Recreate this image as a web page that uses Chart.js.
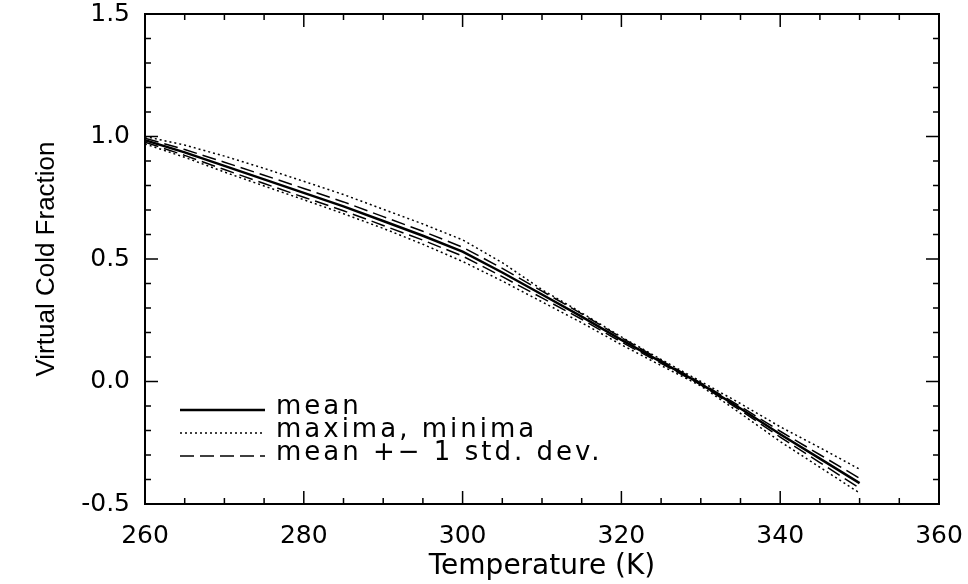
<!DOCTYPE html>
<html>
<head>
<meta charset="utf-8">
<title>Virtual Cold Fraction</title>
<script src="https://cdn.jsdelivr.net/npm/chart.js@4"></script>
<style>
  html, body { margin: 0; padding: 0; background: #fff; }
  #wrap { width: 968px; height: 584px; }
</style>
</head>
<body>
<div id="wrap"><canvas id="chart" width="968" height="584"></canvas></div>
<script>
// temperatures (K) and the curves
const temps    = [260, 265, 270, 275, 280, 285, 290, 295, 300, 305, 310, 315, 320, 325, 330, 335, 340, 345, 350];
const meanVals = [0.985, 0.935, 0.880, 0.825, 0.770, 0.715, 0.655, 0.595, 0.530, 0.445, 0.355, 0.265, 0.170, 0.080, -0.010, -0.110, -0.215, -0.315, -0.415];
const maxVals  = [1.000, 0.965, 0.920, 0.870, 0.817, 0.763, 0.703, 0.643, 0.578, 0.485, 0.375, 0.280, 0.182, 0.090, 0.000, -0.090, -0.185, -0.270, -0.358];
const minVals  = [0.970, 0.915, 0.855, 0.798, 0.742, 0.685, 0.625, 0.560, 0.490, 0.410, 0.325, 0.240, 0.150, 0.065, -0.018, -0.130, -0.245, -0.350, -0.455];
const sdUpper  = [0.993, 0.947, 0.895, 0.842, 0.788, 0.733, 0.673, 0.613, 0.548, 0.462, 0.369, 0.276, 0.179, 0.086, -0.006, -0.102, -0.203, -0.299, -0.395];
const sdLower  = [0.977, 0.923, 0.865, 0.808, 0.752, 0.697, 0.637, 0.577, 0.512, 0.428, 0.341, 0.254, 0.161, 0.074, -0.014, -0.118, -0.227, -0.331, -0.435];

const xTicks = [260, 280, 300, 320, 340, 360];
const yTicks = [-0.5, 0.0, 0.5, 1.0, 1.5];
const legendLabels = ['mean', 'maxima, minima', 'mean +\u2212 1 std. dev.'];

const pts = vals => temps.map((t, i) => ({x: t, y: vals[i]}));

const solid  = {borderColor: '#000', borderWidth: 2.5};
const dotted = {borderColor: '#000', borderWidth: 1.5, borderDash: [2, 3]};
const dashed = {borderColor: '#000', borderWidth: 1.5, borderDash: [14, 6]};

// inward tick marks on all four sides, like the original frame
const frameTicks = {
  id: 'frameTicks',
  afterDraw(chart) {
    const {ctx, chartArea: a} = chart;
    const x = chart.scales.x, y = chart.scales.y;
    ctx.save();
    ctx.strokeStyle = '#000';
    ctx.lineWidth = 1.5;
    ctx.beginPath();
    for (let i = 0; i <= 20; i++) {
      const t = xTicks[0] + i * 5;
      const px = x.getPixelForValue(t);
      const len = i % 4 === 0 ? 13 : 6;
      ctx.moveTo(px, a.bottom); ctx.lineTo(px, a.bottom - len);
      ctx.moveTo(px, a.top);    ctx.lineTo(px, a.top + len);
    }
    for (let i = 0; i <= 20; i++) {
      const v = yTicks[0] + i * 0.1;
      const py = y.getPixelForValue(v);
      const len = i % 5 === 0 ? 13 : 6;
      ctx.moveTo(a.left, py);  ctx.lineTo(a.left + len, py);
      ctx.moveTo(a.right, py); ctx.lineTo(a.right - len, py);
    }
    ctx.stroke();
    ctx.restore();
  }
};

// legend in the lower left of the plot box
const boxLegend = {
  id: 'boxLegend',
  afterDatasetsDraw(chart) {
    const ctx = chart.ctx;
    const ds = chart.data.datasets;
    const rows = [ds[0], ds[1], ds[3]];
    ctx.save();
    ctx.fillStyle = '#000';
    ctx.strokeStyle = '#000';
    ctx.font = '26px "DejaVu Sans"';
    ctx.letterSpacing = '3px';
    ctx.textBaseline = 'middle';
    rows.forEach((d, i) => {
      const yy = 410 + i * 23;
      ctx.lineWidth = d.borderWidth;
      ctx.setLineDash(d.borderDash || []);
      ctx.beginPath();
      ctx.moveTo(180, yy);
      ctx.lineTo(265, yy);
      ctx.stroke();
      ctx.setLineDash([]);
      ctx.fillText(legendLabels[i], 276, yy - 3);
    });
    ctx.restore();
  }
};

const tickFont = {family: 'DejaVu Sans', size: 25};

// keep the plot box where the original has it: no extra room for edge labels
const noEdgePadding = s => { s.paddingTop = 0; s.paddingBottom = 0; s.paddingLeft = 0; s.paddingRight = 0; };

new Chart(document.getElementById('chart'), {
  type: 'line',
  data: {
    datasets: [
      {label: 'mean', data: pts(meanVals), ...solid},
      {label: 'maxima', data: pts(maxVals), ...dotted},
      {label: 'minima', data: pts(minVals), ...dotted},
      {label: 'mean + 1 std. dev.', data: pts(sdUpper), ...dashed},
      {label: 'mean - 1 std. dev.', data: pts(sdLower), ...dashed}
    ]
  },
  options: {
    responsive: false,
    animation: false,
    devicePixelRatio: 1,
    layout: {padding: 0},
    elements: {point: {radius: 0}, line: {tension: 0, fill: false}},
    plugins: {legend: {display: false}, tooltip: {enabled: false}},
    scales: {
      x: {
        type: 'linear', position: 'bottom',
        min: 260, max: 360,
        afterFit: s => { s.height = 80; noEdgePadding(s); },
        grid: {display: false, drawTicks: false},
        border: {color: '#000', width: 2},
        ticks: {stepSize: 20, color: '#000', font: tickFont, padding: 17, maxRotation: 0},
        title: {display: true, text: 'Temperature (K)', color: '#000',
                font: {family: 'DejaVu Sans', size: 28}, padding: {top: 2, bottom: 0}}
      },
      x2: {
        type: 'linear', position: 'top',
        min: 260, max: 360,
        afterFit: s => { s.height = 14; noEdgePadding(s); },
        grid: {display: false, drawTicks: false},
        border: {color: '#000', width: 2},
        ticks: {display: false}
      },
      y: {
        type: 'linear', position: 'left',
        min: -0.5, max: 1.5,
        afterFit: s => { s.width = 145; noEdgePadding(s); },
        grid: {display: false, drawTicks: false},
        border: {color: '#000', width: 2},
        ticks: {stepSize: 0.5, color: '#000', font: tickFont, padding: 15,
                callback: v => Number(v).toFixed(1)},
        title: {display: true, text: 'Virtual Cold Fraction', color: '#000',
                font: {family: 'Liberation Sans', size: 26}, padding: {top: 31, bottom: 0}}
      },
      y2: {
        type: 'linear', position: 'right',
        min: -0.5, max: 1.5,
        afterFit: s => { s.width = 29; noEdgePadding(s); },
        grid: {display: false, drawTicks: false},
        border: {color: '#000', width: 2},
        ticks: {display: false}
      }
    }
  },
  plugins: [frameTicks, boxLegend]
});
</script>
</body>
</html>
